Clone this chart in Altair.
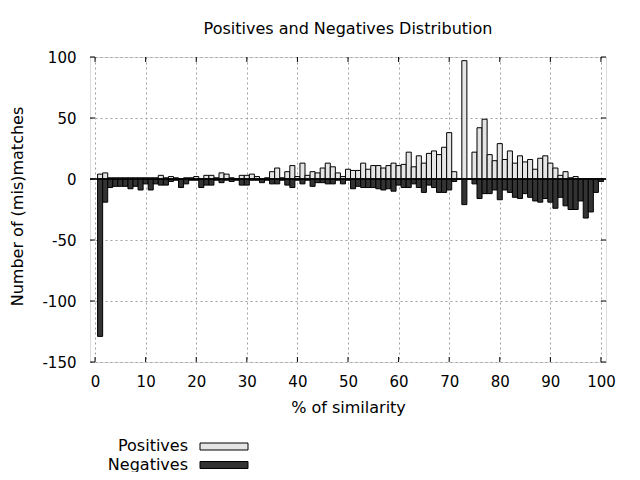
import altair as alt
import pandas as pd

SIMILARITY = list(range(1, 101))
POSITIVES = [4, 5, 1, 1, 1, 1, 1, 1, 1, 1,
             1, 1, 3, 1, 2, 1, 0, 1, 1, 2,
             0, 3, 3, 1, 5, 4, 1, 0, 3, 3,
             4, 2, 0, 1, 6, 9, 1, 6, 11, 2,
             13, 3, 6, 5, 9, 13, 10, 5, 2, 8,
             7, 7, 13, 8, 11, 11, 9, 11, 13, 11,
             12, 22, 10, 19, 13, 21, 23, 20, 26, 38,
             6, 0, 97, 0, 22, 42, 49, 20, 15, 29,
             16, 23, 13, 19, 14, 16, 8, 17, 19, 13,
             9, 3, 6, 1, 2, 0, 0, 0, 0, 0]
NEGATIVES = [-129, -19, -7, -6, -6, -6, -8, -6, -9, -4,
             -9, -4, -5, -5, -2, -1, -7, -4, -1, -1,
             -7, -5, -5, -1, -3, -1, -2, -1, -5, -5,
             -1, -1, -3, -1, -4, -4, -1, -5, -7, -1,
             -4, -1, -6, -3, -3, -4, -4, -1, -4, -1,
             -8, -6, -7, -7, -7, -8, -9, -8, -10, -5,
             -7, -7, -4, -7, -11, -5, -7, -11, -11, -9,
             -2, 0, -21, 0, -4, -16, -12, -12, -9, -17,
             -9, -11, -15, -16, -12, -15, -18, -19, -16, -19,
             -24, -15, -22, -25, -25, -18, -32, -27, -11, -2]
SERIES = ["Positives", "Negatives"]
SERIES_FILL = ["#e5e5e5", "#333333"]
X_TICKS = list(range(0, 101, 10))
Y_TICKS = [-150, -100, -50, 0, 50, 100]

FONT = "DejaVu Sans"
W, H = 516, 305

rows = []
for s, p, n in zip(SIMILARITY, POSITIVES, NEGATIVES):
    rows.append({"sim": s, "series": "Positives", "value": p})
    rows.append({"sim": s, "series": "Negatives", "value": n})
df = pd.DataFrame(rows)

xscale = alt.Scale(domain=[-1, 101], nice=False, zero=False)
yscale = alt.Scale(domain=[-150, 100], nice=False, zero=False)
fill_scale = alt.Scale(domain=SERIES, range=SERIES_FILL)

bars = alt.Chart(df).transform_calculate(
    x0="datum.sim - 0.5", x1="datum.sim + 0.5"
).mark_rect(stroke="black", strokeWidth=1).encode(
    x=alt.X("x0:Q", scale=xscale, axis=alt.Axis(
        values=X_TICKS, labelExpr="'' + datum.value", title="% of similarity",
        labelFlush=False, labelOverlap=False, ticks=False, domain=False,
        labelPadding=12, labelFontSize=15, labelFont=FONT, labelColor="black",
        titleFontSize=16, titleFont=FONT, titleFontWeight="normal", titleColor="black",
        titleX=W / 2, titleY=50, titleBaseline="alphabetic", titleAlign="center",
        grid=True, gridColor="#a0a0a0", gridDash=[2, 3], gridWidth=1,
    )),
    x2="x1:Q",
    y=alt.Y("value:Q", scale=yscale, axis=alt.Axis(
        values=Y_TICKS, labelExpr="'' + datum.value", title="Number of (mis)matches",
        labelFlush=False, labelOverlap=False, ticks=False, domain=False,
        labelPadding=14, labelFontSize=15, labelFont=FONT, labelColor="black",
        titleFontSize=16, titleFont=FONT, titleFontWeight="normal", titleColor="black",
        titleX=-68, titleY=149, titleAngle=270, titleBaseline="alphabetic", titleAlign="center",
        grid=True, gridColor="#a0a0a0", gridDash=[2, 3], gridWidth=1,
    )),
    y2=alt.datum(0),
    fill=alt.Fill("series:N", scale=fill_scale, legend=None),
)

zero_line = alt.Chart(pd.DataFrame({"v": [0]})).mark_rule(
    color="black", strokeWidth=1.5
).encode(y=alt.Y("v:Q", scale=yscale))

xt = pd.DataFrame({"t": X_TICKS})
yt = pd.DataFrame({"t": Y_TICKS})
tick_bottom = alt.Chart(xt).mark_rule(color="black").encode(
    x=alt.X("t:Q", scale=xscale), y=alt.value(H), y2=alt.value(H - 5))
tick_top = alt.Chart(xt).mark_rule(color="black").encode(
    x=alt.X("t:Q", scale=xscale), y=alt.value(0), y2=alt.value(5))
tick_left = alt.Chart(yt).mark_rule(color="black").encode(
    y=alt.Y("t:Q", scale=yscale), x=alt.value(0), x2=alt.value(5))
tick_right = alt.Chart(yt).mark_rule(color="black").encode(
    y=alt.Y("t:Q", scale=yscale), x=alt.value(W), x2=alt.value(W - 5))

leg_df = pd.DataFrame({"series": SERIES})
legend_layers = []
for i, s in enumerate(SERIES):
    base = alt.Chart(leg_df).transform_filter(alt.datum.series == s)
    legend_layers.append(base.mark_text(
        align="right", baseline="alphabetic", fontSize=16, font=FONT, color="black"
    ).encode(text="series:N", x=alt.value(98), y=alt.value(394 + 18.5 * i)))
    legend_layers.append(base.mark_rect(stroke="black", strokeWidth=1).encode(
        fill=alt.Fill("series:N", scale=fill_scale, legend=None),
        x=alt.value(110), x2=alt.value(158),
        y=alt.value(386 + 18.5 * i), y2=alt.value(393 + 18.5 * i)))

chart = alt.layer(
    bars, zero_line, tick_bottom, tick_top, tick_left, tick_right, *legend_layers
).properties(
    width=W, height=H,
    title=alt.TitleParams(
        "Positives and Negatives Distribution", fontSize=16, font=FONT,
        fontWeight="normal", color="black", anchor="middle", offset=0,
        baseline="alphabetic"),
    autosize=alt.AutoSizeParams(type="none"),
    padding={"left": 82, "top": 49, "right": 26, "bottom": 110},
).configure_view(stroke="black", strokeWidth=1).configure(background="white")

chart.save("out.html", embed_options={"renderer": "svg", "actions": False})
